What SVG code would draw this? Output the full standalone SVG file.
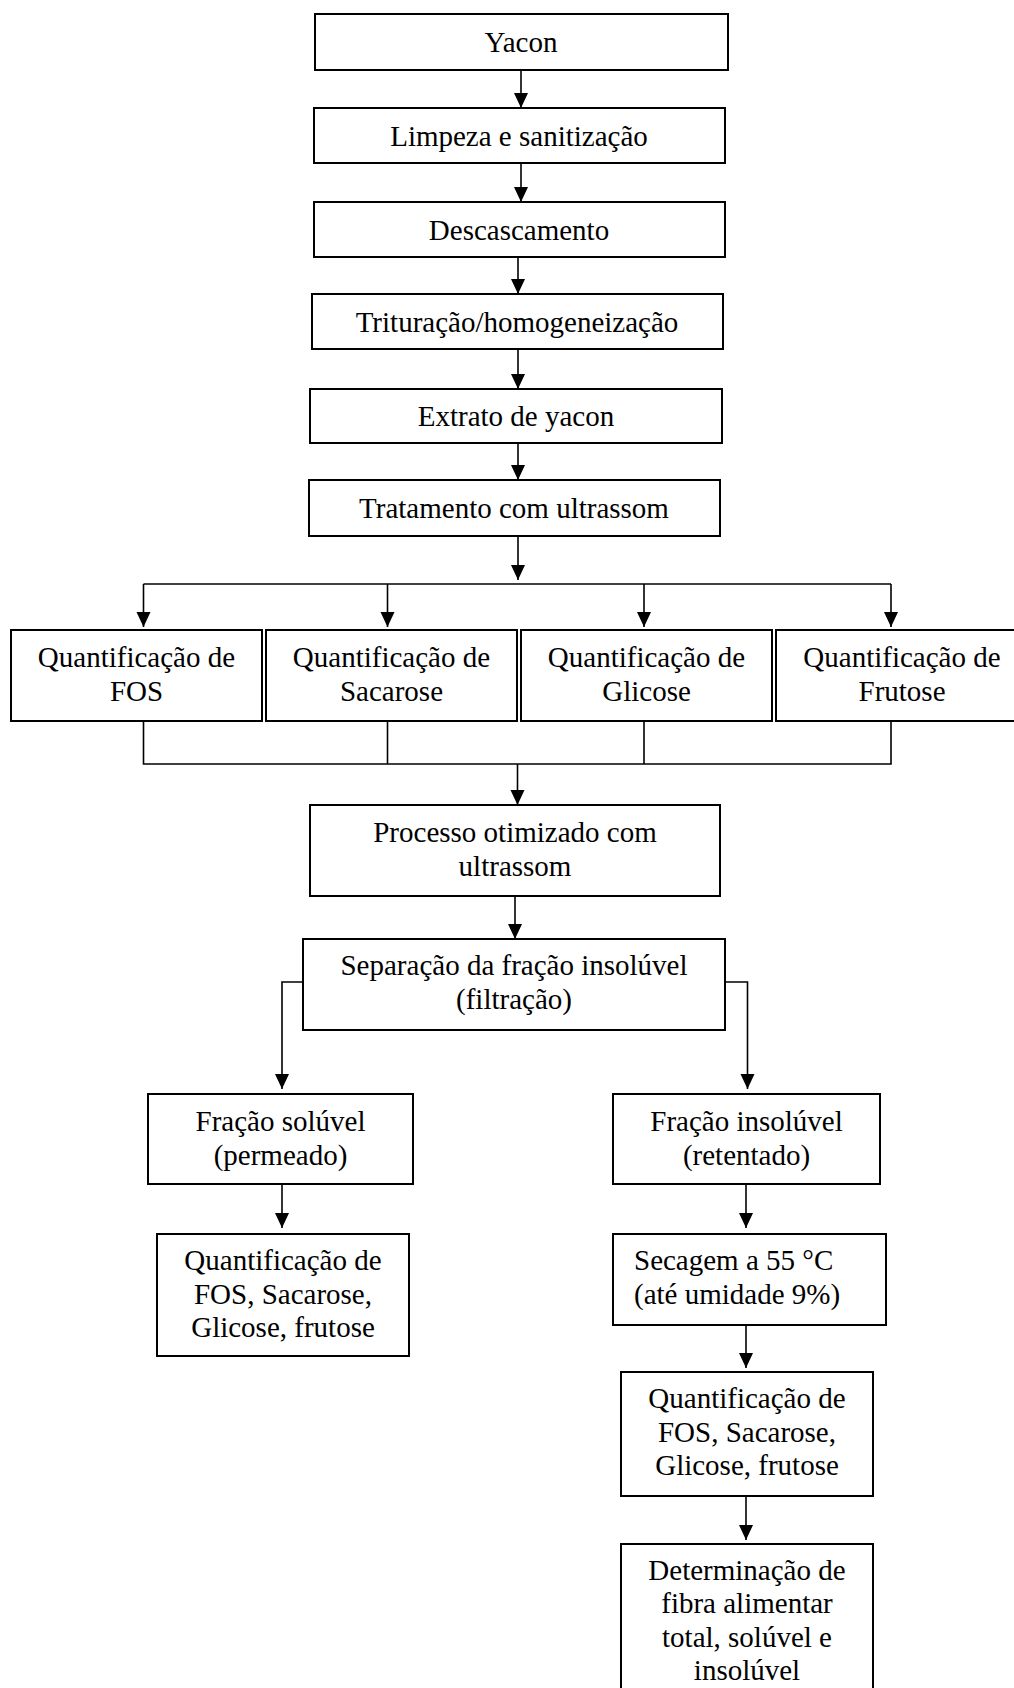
<svg xmlns="http://www.w3.org/2000/svg" width="1014" height="1688" viewBox="0 0 1014 1688">
<style>
.box{fill:#fff;stroke:#000;stroke-width:2}
.t{font-family:"Liberation Serif","Times New Roman",serif;font-size:29px;fill:#000;text-anchor:middle}
.ts{font-family:"Liberation Serif","Times New Roman",serif;font-size:29px;fill:#000;text-anchor:start}
.c{fill:none;stroke:#000;stroke-width:1.6}
</style>
<defs>
<marker id="ah" markerUnits="userSpaceOnUse" markerWidth="15" markerHeight="15" viewBox="0 0 15 15" refX="15" refY="7" orient="auto">
<path d="M0,0 L15,7 L0,14 z" fill="#000"/>
</marker>
</defs>
<rect width="1014" height="1688" fill="#fff"/>
<g id="connectors">
<line class="c" x1="521" y1="70" x2="521" y2="108" marker-end="url(#ah)"/>
<line class="c" x1="521" y1="163" x2="521" y2="202" marker-end="url(#ah)"/>
<line class="c" x1="518" y1="257" x2="518" y2="294" marker-end="url(#ah)"/>
<line class="c" x1="518" y1="349" x2="518" y2="389" marker-end="url(#ah)"/>
<line class="c" x1="518" y1="443" x2="518" y2="480" marker-end="url(#ah)"/>
<line class="c" x1="518" y1="536" x2="518" y2="580" marker-end="url(#ah)"/>
<polyline class="c" points="143.5,584 891,584"/>
<line class="c" x1="143.5" y1="584" x2="143.5" y2="627" marker-end="url(#ah)"/>
<line class="c" x1="387.5" y1="584" x2="387.5" y2="627" marker-end="url(#ah)"/>
<line class="c" x1="644" y1="584" x2="644" y2="627" marker-end="url(#ah)"/>
<line class="c" x1="891" y1="584" x2="891" y2="627" marker-end="url(#ah)"/>
<polyline class="c" points="143.5,721 143.5,764 891,764 891,721"/>
<line class="c" x1="387.5" y1="721" x2="387.5" y2="764"/>
<line class="c" x1="644" y1="721" x2="644" y2="764"/>
<line class="c" x1="517.5" y1="764" x2="517.5" y2="805" marker-end="url(#ah)"/>
<line class="c" x1="515" y1="896" x2="515" y2="939" marker-end="url(#ah)"/>
<polyline class="c" points="303,982 282,982 282,1089" marker-end="url(#ah)"/>
<polyline class="c" points="725,982 747.5,982 747.5,1089" marker-end="url(#ah)"/>
<line class="c" x1="282" y1="1184" x2="282" y2="1228" marker-end="url(#ah)"/>
<line class="c" x1="746" y1="1184" x2="746" y2="1228" marker-end="url(#ah)"/>
<line class="c" x1="746" y1="1325" x2="746" y2="1368" marker-end="url(#ah)"/>
<line class="c" x1="746" y1="1496" x2="746" y2="1540" marker-end="url(#ah)"/>
</g>
<g id="yacon"><rect class="box" x="315" y="14" width="413" height="56"/><text class="t" x="521" y="52">Yacon</text></g>
<g id="limpeza"><rect class="box" x="314" y="108" width="411" height="55"/><text class="t" x="519" y="146">Limpeza e sanitização</text></g>
<g id="descascamento"><rect class="box" x="314" y="202" width="411" height="55"/><text class="t" x="519" y="240">Descascamento</text></g>
<g id="trituracao"><rect class="box" x="312" y="294" width="411" height="55"/><text class="t" x="517" y="332">Trituração/homogeneização</text></g>
<g id="extrato"><rect class="box" x="310" y="389" width="412" height="54"/><text class="t" x="516" y="426">Extrato de yacon</text></g>
<g id="tratamento"><rect class="box" x="309" y="480" width="411" height="56"/><text class="t" x="514" y="518">Tratamento com ultrassom</text></g>
<g id="q-fos"><rect class="box" x="11" y="630" width="251" height="91"/><text class="t" x="136.5" y="667">Quantificação de</text><text class="t" x="136.5" y="701">FOS</text></g>
<g id="q-sacarose"><rect class="box" x="266" y="630" width="251" height="91"/><text class="t" x="391.5" y="667">Quantificação de</text><text class="t" x="391.5" y="701">Sacarose</text></g>
<g id="q-glicose"><rect class="box" x="521" y="630" width="251" height="91"/><text class="t" x="646.5" y="667">Quantificação de</text><text class="t" x="646.5" y="701">Glicose</text></g>
<g id="q-frutose"><rect class="box" x="776" y="630" width="252" height="91"/><text class="t" x="902" y="667">Quantificação de</text><text class="t" x="902" y="701">Frutose</text></g>
<g id="processo"><rect class="box" x="310" y="805" width="410" height="91"/><text class="t" x="515" y="842">Processo otimizado com</text><text class="t" x="515" y="876">ultrassom</text></g>
<g id="separacao"><rect class="box" x="303" y="939" width="422" height="91"/><text class="t" x="514" y="975">Separação da fração insolúvel</text><text class="t" x="514" y="1009">(filtração)</text></g>
<g id="fracao-soluvel"><rect class="box" x="148" y="1094" width="265" height="90"/><text class="t" x="280.5" y="1131">Fração solúvel</text><text class="t" x="280.5" y="1165">(permeado)</text></g>
<g id="fracao-insoluvel"><rect class="box" x="613" y="1094" width="267" height="90"/><text class="t" x="746.5" y="1131">Fração insolúvel</text><text class="t" x="746.5" y="1165">(retentado)</text></g>
<g id="q-soluvel"><rect class="box" x="157" y="1234" width="252" height="122"/><text class="t" x="283" y="1270">Quantificação de</text><text class="t" x="283" y="1304">FOS, Sacarose,</text><text class="t" x="283" y="1337">Glicose, frutose</text></g>
<g id="secagem"><rect class="box" x="613" y="1234" width="273" height="91"/><text class="ts" x="634" y="1270">Secagem a 55 °C</text><text class="ts" x="634" y="1304">(até umidade 9%)</text></g>
<g id="q-insoluvel"><rect class="box" x="621" y="1372" width="252" height="124"/><text class="t" x="747" y="1408">Quantificação de</text><text class="t" x="747" y="1442">FOS, Sacarose,</text><text class="t" x="747" y="1475">Glicose, frutose</text></g>
<g id="determinacao"><rect class="box" x="621" y="1544" width="252" height="160"/><text class="t" x="747" y="1580">Determinação de</text><text class="t" x="747" y="1613">fibra alimentar</text><text class="t" x="747" y="1647">total, solúvel e</text><text class="t" x="747" y="1680">insolúvel</text></g>
</svg>
